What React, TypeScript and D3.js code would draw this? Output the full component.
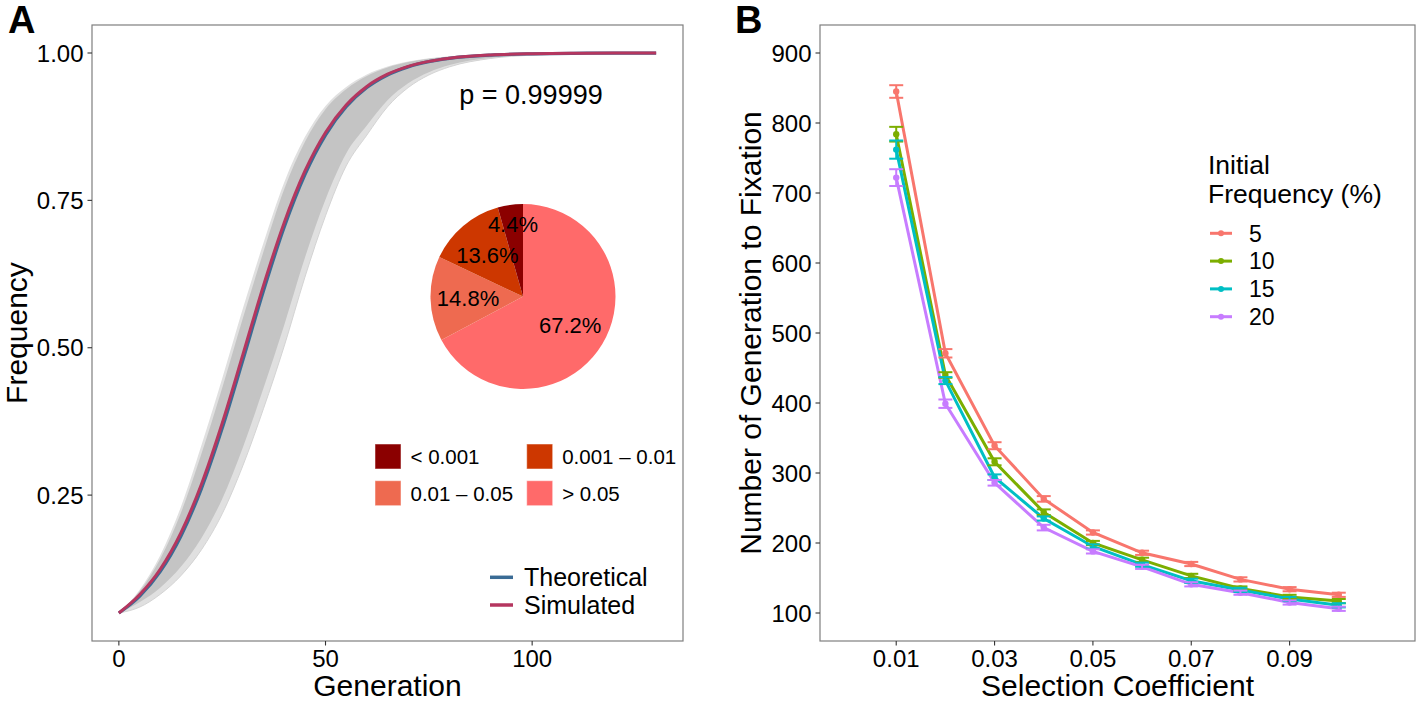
import React from "react";
import * as d3 from "d3";

// ---------- Panel A data ----------
const generations = [0, 5, 10, 15, 20, 25, 30, 35, 40, 45, 50, 55, 60, 65, 70, 75, 80, 90, 100, 110, 120, 130];
const theoretical = [0.05, 0.0781, 0.1201, 0.1802, 0.2615, 0.3632, 0.4787, 0.5966, 0.7043, 0.7932, 0.8607, 0.9087, 0.9413, 0.9627, 0.9765, 0.9853, 0.9908, 0.9964, 0.9986, 0.9995, 0.9998, 0.9999];
const simulatedMean = [0.05, 0.0809, 0.1242, 0.1859, 0.269, 0.372, 0.4882, 0.6058, 0.7122, 0.7994, 0.8652, 0.9118, 0.9433, 0.964, 0.9774, 0.9858, 0.9912, 0.9966, 0.9987, 0.9995, 0.9998, 0.9999];
const replicateCoreUpper = [0.05, 0.0868, 0.1418, 0.2197, 0.3204, 0.4315, 0.55, 0.6631, 0.7688, 0.8489, 0.9047, 0.9386, 0.961, 0.9754, 0.9846, 0.9904, 0.994, 0.9977, 0.9991, 0.9997, 0.9999, 0.9999];
const replicateCoreLower = [0.05, 0.0684, 0.093, 0.1284, 0.1774, 0.2435, 0.3308, 0.4315, 0.5382, 0.6524, 0.7514, 0.8296, 0.877, 0.9199, 0.9487, 0.9675, 0.9796, 0.992, 0.9969, 0.9988, 0.9995, 0.9998];
const replicateOuterUpper = [0.05, 0.0891, 0.1477, 0.2297, 0.335, 0.4479, 0.5665, 0.6779, 0.7804, 0.8573, 0.9103, 0.9423, 0.9634, 0.9769, 0.9856, 0.991, 0.9944, 0.9978, 0.9992, 0.9997, 0.9999, 0.9999];
const replicateOuterLower = [0.05, 0.0599, 0.0817, 0.1132, 0.1575, 0.2182, 0.2999, 0.3968, 0.5026, 0.6193, 0.7238, 0.8084, 0.8607, 0.9087, 0.9413, 0.9627, 0.9765, 0.9908, 0.9964, 0.9986, 0.9995, 0.9998];
const xTicksA = [0, 50, 100];
const yTicksA = [0.25, 0.5, 0.75, 1.0];
const pValueLabel = "p = 0.99999";

const pCategories = ["< 0.001", "0.001 – 0.01", "0.01 – 0.05", "> 0.05"];
const pPercents = [4.4, 13.6, 14.8, 67.2];
const pColors = ["#8B0000", "#CD3700", "#EE6A50", "#FF6A6A"];

// ---------- Panel B data ----------
const selectionCoefficients = [0.01, 0.02, 0.03, 0.04, 0.05, 0.06, 0.07, 0.08, 0.09, 0.1];
const initialFrequencies = ["5", "10", "15", "20"];
const seriesColors = ["#F8766D", "#7CAE00", "#00BFC4", "#C77CFF"];
const fixation5 = [845, 471, 339, 263, 215, 186, 170, 148, 134, 126];
const fixation10 = [784, 440, 316, 244, 200, 176, 153, 135, 123, 117];
const fixation15 = [762, 432, 294, 235, 195, 169, 146, 133, 120, 111];
const fixation20 = [722, 399, 286, 222, 188, 166, 141, 129, 115, 106];
const error5 = [9, 6, 5, 4, 3, 3, 3, 3, 3, 3];
const error10 = [10.5, 4, 5, 4, 3, 3, 3, 3, 3, 3];
const error15 = [13, 5, 4, 3, 3, 3, 3, 3, 3, 3];
const error20 = [12, 6, 4, 4, 3, 3, 3, 3, 3, 3];
const xTicksB = [0.01, 0.03, 0.05, 0.07, 0.09];
const yTicksB = [100, 200, 300, 400, 500, 600, 700, 800, 900];

const FONT = "'Liberation Sans', Arial, Helvetica, sans-serif";

function expand(lo: number, hi: number, f = 0.05): [number, number] {
  const r = hi - lo;
  return [lo - r * f, hi + r * f];
}

export default function App() {
  const top = 25, bottom = 641;
  // Panel A
  const aL = 92, aR = 683;
  const xA = d3.scaleLinear().domain(expand(0, 130)).range([aL, aR]);
  const yA = d3.scaleLinear().domain(expand(0.05, 1)).range([bottom, top]);
  const lineA = d3
    .line<number>()
    .x((_, i) => xA(generations[i]))
    .y((d) => yA(d))
    .curve(d3.curveMonotoneX);
  const bandA = (lo: number[], hi: number[]) =>
    d3
      .area<number>()
      .x((_, i) => xA(generations[i]))
      .y0((_, i) => yA(lo[i]))
      .y1((_, i) => yA(hi[i]))
      .curve(d3.curveMonotoneX)(generations) as string;

  // Pie
  const pieCx = 523, pieCy = 296.5, pieR = 92.5;
  const order = [3, 2, 1, 0];
  const pieData = d3
    .pie<number>()
    .sort(null)
    .value((i) => pPercents[i])(order);
  const arcGen = d3.arc<d3.PieArcDatum<number>>().innerRadius(0).outerRadius(pieR);

  // Panel B
  const bL = 820, bR = 1415;
  const xB = d3.scaleLinear().domain(expand(0, 0.11)).range([bL, bR]);
  const yB = d3.scaleLinear().domain(expand(100, 900)).range([bottom, top]);
  const seriesB = [fixation5, fixation10, fixation15, fixation20];
  const errorsB = [error5, error10, error15, error20];
  const lineB = d3
    .line<number>()
    .x((_, i) => xB(selectionCoefficients[i]))
    .y((d) => yB(d));

  const tickLen = 4.5;
  const tickFont = 24;
  const titleFont = 30;

  return (
    <div style={{ position: "absolute", left: 0, top: 0 }}>
      <svg width={1416} height={701} style={{ display: "block", background: "#fff" }} fontFamily={FONT}>
        <rect x={0} y={0} width={1416} height={701} fill="#fff" />
        {/* ================= Panel A ================= */}
        <text x={8} y={33} fontSize={38} fontWeight="bold" fill="#000">A</text>
        <path d={bandA(replicateOuterLower, replicateOuterUpper)} fill="#e0e0e0" />
        <path d={bandA(replicateCoreLower, replicateCoreUpper)} fill="#c4c4c4" />
        <path d={lineA(replicateOuterLower) as string} fill="none" stroke="#d4d4d4" strokeWidth={1} />
        <path d={lineA(theoretical) as string} fill="none" stroke="#3A6B95" strokeWidth={3.2} />
        <path d={lineA(simulatedMean) as string} fill="none" stroke="#B5365F" strokeWidth={3} />

        <text x={531} y={104} fontSize={27} textAnchor="middle" fill="#000">{pValueLabel}</text>

        {/* pie */}
        <g transform={`translate(${pieCx},${pieCy})`}>
          {pieData.map((d) => (
            <path key={d.data} d={arcGen(d) as string} fill={pColors[d.data]} />
          ))}
          {pieData.map((d) => {
            const mid = (d.startAngle + d.endAngle) / 2;
            const r = pPercents[d.data] < 5 ? 73 : 55;
            return (
              <text
                key={"l" + d.data}
                x={Math.sin(mid) * r}
                y={-Math.cos(mid) * r}
                dy="0.36em"
                fontSize={22}
                textAnchor="middle"
                fill="#000"
              >
                {pPercents[d.data].toFixed(1)}%
              </text>
            );
          })}
        </g>

        {/* pie legend */}
        {pCategories.map((c, i) => {
          const col = i % 2, row = Math.floor(i / 2);
          const x = 375 + col * 151.7;
          const y = 444 + row * 36.7;
          return (
            <g key={c}>
              <rect x={x} y={y} width={26} height={25} fill={pColors[i]} stroke="#fff" strokeOpacity={0.5} strokeWidth={1} />
              <text x={x + 35.5} y={y + 12.5} dy="0.36em" fontSize={20.5} fill="#000">{c}</text>
            </g>
          );
        })}

        {/* line legend */}
        {["Theoretical", "Simulated"].map((lab, i) => (
          <g key={lab}>
            <line x1={490} x2={513} y1={577.3 + i * 27.7} y2={577.3 + i * 27.7} stroke={i === 0 ? "#3A6B95" : "#B5365F"} strokeWidth={3.5} />
            <text x={524} y={577.3 + i * 27.7} dy="0.36em" fontSize={25} fill="#000">{lab}</text>
          </g>
        ))}

        {/* axes A */}
        <rect x={aL} y={top} width={aR - aL} height={bottom - top} fill="none" stroke="#7f7f7f" strokeWidth={1.2} />
        {yTicksA.map((t) => (
          <g key={"ya" + t}>
            <line x1={aL - tickLen} x2={aL} y1={yA(t)} y2={yA(t)} stroke="#333" strokeWidth={1.1} />
            <text x={aL - tickLen - 4} y={yA(t)} dy="0.36em" textAnchor="end" fontSize={tickFont} fill="#000">
              {d3.format(".2f")(t)}
            </text>
          </g>
        ))}
        {xTicksA.map((t) => (
          <g key={"xa" + t}>
            <line x1={xA(t)} x2={xA(t)} y1={bottom} y2={bottom + tickLen} stroke="#333" strokeWidth={1.1} />
            <text x={xA(t)} y={667} textAnchor="middle" fontSize={tickFont} fill="#000">{t}</text>
          </g>
        ))}
        <text x={(aL + aR) / 2} y={696} textAnchor="middle" fontSize={titleFont} fill="#000">Generation</text>
        <text transform={`translate(27,${(top + bottom) / 2}) rotate(-90)`} textAnchor="middle" fontSize={titleFont} fill="#000">Frequency</text>

        {/* ================= Panel B ================= */}
        <text x={735} y={33} fontSize={38} fontWeight="bold" fill="#000">B</text>
        {seriesB.map((s, k) => (
          <path key={"lb" + k} d={lineB(s) as string} fill="none" stroke={seriesColors[k]} strokeWidth={3} />
        ))}
        {seriesB.map((s, k) =>
          s.map((v, i) => (
            <circle key={`p${k}-${i}`} cx={xB(selectionCoefficients[i])} cy={yB(v)} r={3.2} fill={seriesColors[k]} />
          ))
        )}
        {seriesB.map((s, k) =>
          s.map((v, i) => {
            const x = xB(selectionCoefficients[i]);
            const e = errorsB[k][i];
            return (
              <g key={`e${k}-${i}`} stroke={seriesColors[k]} strokeWidth={2}>
                <line x1={x} x2={x} y1={yB(v - e)} y2={yB(v + e)} />
                <line x1={x - 7} x2={x + 7} y1={yB(v - e)} y2={yB(v - e)} />
                <line x1={x - 7} x2={x + 7} y1={yB(v + e)} y2={yB(v + e)} />
              </g>
            );
          })
        )}

        {/* legend B */}
        <text x={1208} y={173.5} fontSize={26.5} fill="#000">Initial</text>
        <text x={1208} y={202.5} fontSize={26.5} fill="#000">Frequency (%)</text>
        {initialFrequencies.map((f, k) => {
          const y = 233.3 + k * 27.8;
          return (
            <g key={"lg" + f}>
              <line x1={1210} x2={1232} y1={y} y2={y} stroke={seriesColors[k]} strokeWidth={3} />
              <circle cx={1221} cy={y} r={3} fill={seriesColors[k]} />
              <text x={1249} y={y} dy="0.36em" fontSize={23} fill="#000">{f}</text>
            </g>
          );
        })}

        {/* axes B */}
        <rect x={bL} y={top} width={bR - bL} height={bottom - top} fill="none" stroke="#7f7f7f" strokeWidth={1.2} />
        {yTicksB.map((t) => (
          <g key={"yb" + t}>
            <line x1={bL - tickLen} x2={bL} y1={yB(t)} y2={yB(t)} stroke="#333" strokeWidth={1.1} />
            <text x={bL - tickLen - 4} y={yB(t)} dy="0.36em" textAnchor="end" fontSize={tickFont} fill="#000">{t}</text>
          </g>
        ))}
        {xTicksB.map((t) => (
          <g key={"xb" + t}>
            <line x1={xB(t)} x2={xB(t)} y1={bottom} y2={bottom + tickLen} stroke="#333" strokeWidth={1.1} />
            <text x={xB(t)} y={667} textAnchor="middle" fontSize={tickFont} fill="#000">{d3.format(".2f")(t)}</text>
          </g>
        ))}
        <text x={(bL + bR) / 2} y={696} textAnchor="middle" fontSize={titleFont} fill="#000">Selection Coefficient</text>
        <text transform={`translate(761,${(top + bottom) / 2}) rotate(-90)`} textAnchor="middle" fontSize={titleFont} fill="#000">Number of Generation to Fixation</text>
      </svg>
    </div>
  );
}
